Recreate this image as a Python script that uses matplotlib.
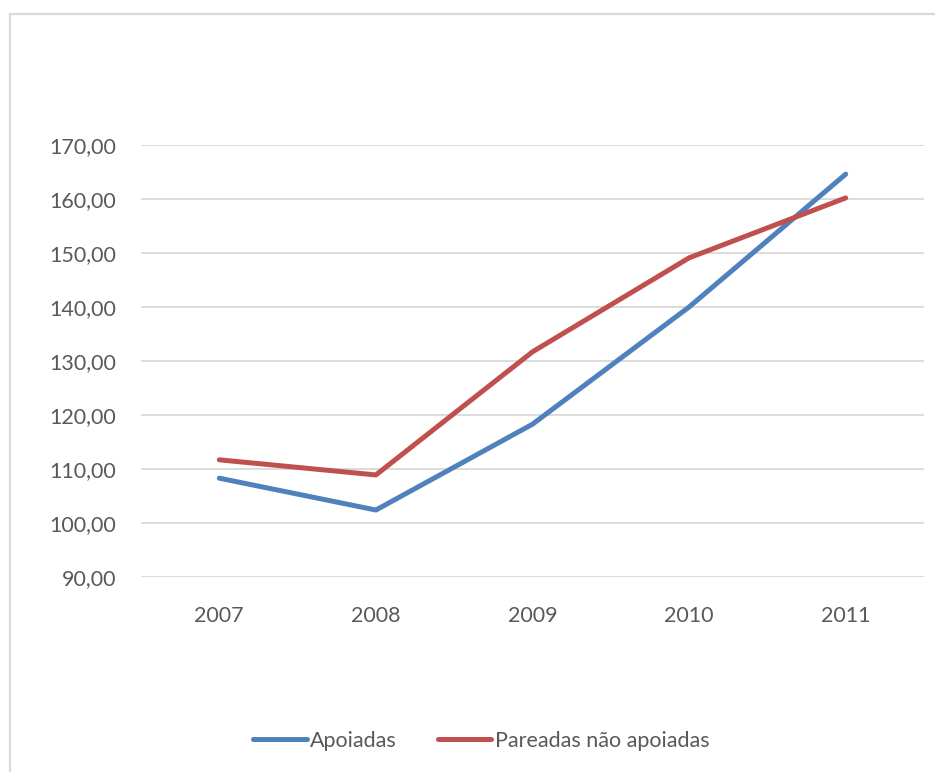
import matplotlib
matplotlib.use("Agg")
import matplotlib.pyplot as plt
from matplotlib.patches import Rectangle
from matplotlib.ticker import FuncFormatter

years = ["2007", "2008", "2009", "2010", "2011"]
apoiadas = [108.3, 102.4, 118.3, 140.0, 164.6]
pareadas = [111.7, 108.9, 131.7, 149.1, 160.2]

W, H = 935, 772
plt.rcParams['font.family'] = ['Lato', 'DejaVu Sans']
text_color = "#595959"
grid_color = "#D9D9D9"

fig = plt.figure(figsize=(W / 100, H / 100), dpi=100)

# chart-area frame
fig.patches.append(Rectangle((10 / W, -0.05), 1.1, 1 - 14 / H + 0.05,
                             transform=fig.transFigure, fill=False,
                             edgecolor=grid_color, linewidth=1.6))

ax = fig.add_axes([141 / W, 1 - 577 / H, (924 - 141) / W, (577 - 145) / H])
x = range(len(years))
ax.plot(x, apoiadas, color="#4F81BD", linewidth=3.6, solid_capstyle="round",
        label="Apoiadas")
ax.plot(x, pareadas, color="#C0504D", linewidth=3.6, solid_capstyle="round",
        label="Pareadas não apoiadas")

ax.set_xlim(-0.5, len(years) - 0.5)
ax.set_ylim(90, 170)
ax.set_yticks(range(90, 171, 10))
ax.yaxis.set_major_formatter(FuncFormatter(lambda v, p: f"{v:.2f}".replace(".", ",")))
ax.set_xticks(list(x))
ax.set_xticklabels(years)
ax.grid(axis="y", color=grid_color, linewidth=1.3)
ax.set_axisbelow(True)
for s in ax.spines.values():
    s.set_visible(False)
ax.tick_params(axis="both", length=0, labelsize=15.5, labelcolor=text_color)
ax.tick_params(axis="y", pad=18)
ax.tick_params(axis="x", pad=21)

leg = fig.legend(loc="center", bbox_to_anchor=(481 / W, 1 - 741 / H), ncol=2,
                 frameon=False, fontsize=15.5, handlelength=2.5, handletextpad=0.15,
                 columnspacing=1.9, labelcolor=text_color)

fig.savefig("out.png", dpi=100)
